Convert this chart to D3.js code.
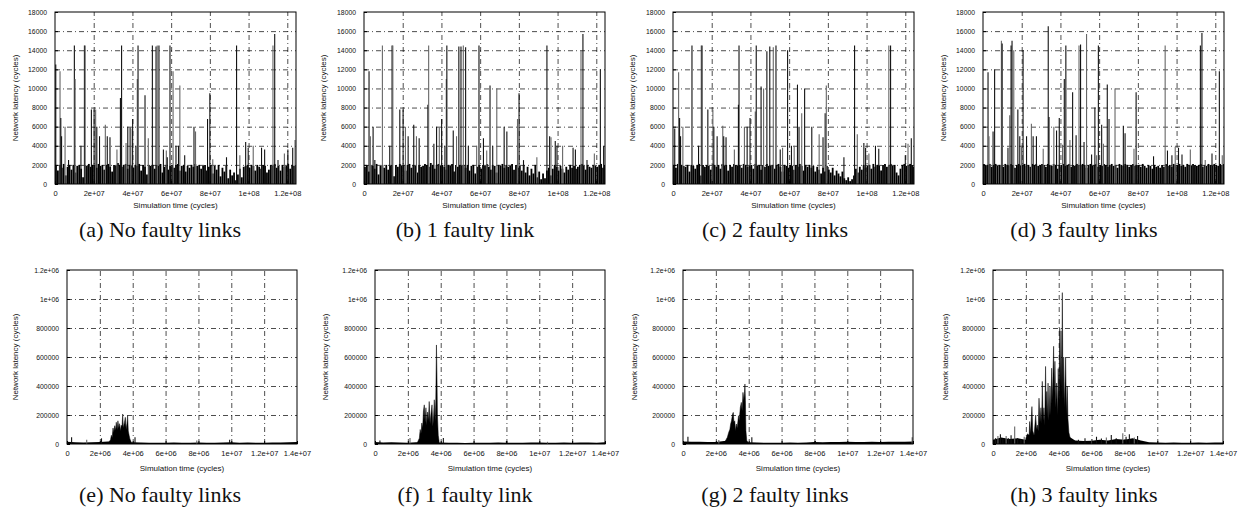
<!DOCTYPE html>
<html>
<head>
<meta charset="utf-8">
<script src="https://cdn.jsdelivr.net/npm/d3@7"></script>
<style>
body { margin: 0; background: #fff; }
svg text { font-family: "Liberation Sans", Arial, sans-serif; fill: #111; }
svg text.cap { font-family: "Liberation Serif", "Times New Roman", serif; }
</style>
</head>
<body>
<div class="canvas"></div>
<script>
// ---- data ----
var captions = ["(a) No faulty links", "(b) 1 faulty link", "(c) 2 faulty links", "(d) 3 faulty links",
                "(e) No faulty links", "(f) 1 faulty link", "(g) 2 faulty links", "(h) 3 faulty links"];
var yTitle = "Network latency (cycles)";
var xTitle = "Simulation time (cycles)";

// top row: 0 .. ~1.245e8 cycles, latency 0..18000
var xTickValsTop = [0, 2e7, 4e7, 6e7, 8e7, 1e8, 1.2e8];
var xTickLblTop = ["0", "2e+07", "4e+07", "6e+07", "8e+07", "1e+08", "1.2e+08"];
var yTickValsTop = [0, 2000, 4000, 6000, 8000, 10000, 12000, 14000, 16000, 18000];
var yTickLblTop = ["0", "2000", "4000", "6000", "8000", "10000", "12000", "14000", "16000", "18000"];
// bottom row: 0 .. 1.4e7 cycles, latency 0..1.2e6
var xTickValsBot = [0, 2e6, 4e6, 6e6, 8e6, 1e7, 1.2e7, 1.4e7];
var xTickLblBot = ["0", "2e+06", "4e+06", "6e+06", "8e+06", "1e+07", "1.2e+07", "1.4e+07"];
var yTickValsBot = [0, 2e5, 4e5, 6e5, 8e5, 1e6, 1.2e6];
var yTickLblBot = ["0", "200000", "400000", "600000", "800000", "1e+06", "1.2e+06"];

// top row: background band, one value per 1e6 cycles
var floorStepTop = 1e6;
var floorA = [1900,1400,2000,1700,2100,900,1800,2000,1500,2000, 1200,1900,2000,1600,700,2000,1900,2100,1800,2000,
  2000,1700,2100,1900,2000,1500,2000,2100,1800,1300, 2000,1900,2200,2000,1800,2000,2100,1600,2000,1900,
  1700,2000,1900,2100,1400,2000,1800,1000,2000,1900, 2000,1600,2000,1900,2100,1200,1800,2000,1500,1900,
  2000,1700,2000,2100,1400,1900,2000,1300,1900,1700, 2000,1800,2100,1900,2000,1600,1900,2000,1400,1800,
  2000,1100,1900,1500,2000,800,1700,1300,1900,600, 1500,900,1200,400,1000,1600,700,1800,1900,2000,
  1700,2000,1900,1400,2000,1800,1600,2000,1900,1200, 1500,2000,1900,2100,1700,1900,1400,2000,1800,1900,
  2100,1600,2000,1900,2000];
var floorB = [1800,2000,1300,2000,1900,1600,2100,1000,1900,2000, 1700,2000,1500,1900,2000,800,2000,1800,2100,1900,
  2000,1400,2000,2100,1700,2000,1900,1200,2000,1800, 1900,2100,2000,1800,2200,2000,1600,2000,2100,1900,
  2000,1800,1500,2000,1900,2100,1300,2000,1800,2000, 1900,2000,1700,2000,1400,1900,2000,1100,1800,2000,
  1600,2000,1900,2100,1800,1500,2000,1900,1200,2000, 1900,2100,1700,2000,1800,1900,2100,1500,2000,1700,
  1900,1400,2000,1200,1800,900,1600,1100,2000,700, 1300,500,1100,600,1400,1700,900,1600,2000,1800,
  1400,1900,1600,1200,1800,1500,2000,1700,1900,1600, 1800,2000,2100,1900,1500,2000,1800,1700,2000,1900,
  1800,2000,2100,1700,2000];
var floorC = [2000,1700,2100,1500,2000,1900,1800,2000,1300,2000, 1900,1600,2000,2100,900,2000,1800,2000,1900,1500,
  2100,2000,1800,2000,1600,2100,1900,2000,1400,2000, 1800,2100,2000,1900,2000,1700,2100,2000,1800,1900,
  2000,1600,2100,1900,2000,1500,2000,1800,2100,1900, 1900,2000,1600,2000,2100,1800,1300,2000,1900,1700,
  2000,1900,1500,2000,1800,2100,1900,1400,2000,1800, 2000,1700,1900,1300,1800,1500,1100,1700,1300,1900,
  1500,1200,1700,900,1400,1100,800,1300,600,400, 700,300,500,900,1600,1200,1800,1500,2000,1700,
  1900,2000,1600,2100,1800,2000,1900,1400,2000,2100, 1800,2000,2100,1900,2000,1200,900,1600,2000,2100,
  1900,2000,2100,2000,1800];
var floorD = [2100,1900,2000,2100,1800,2000,2100,1900,2000,2000, 1800,2100,2000,1900,2100,2000,1700,2000,2100,1900,
  2000,2100,1900,2000,1800,2100,2000,2100,1900,2000, 2100,2000,1800,2100,2000,1900,2100,2000,1600,2000,
  2000,2100,1900,2000,2100,1800,2000,1900,2100,2000, 1900,2100,2000,1700,2000,2100,1900,2000,2100,1800,
  2000,1900,2100,2000,1800,2000,2100,1900,2000,1700, 2100,2000,1900,2100,2000,1800,2000,2100,1900,2000,
  2000,1800,2100,1900,1700,2000,1900,1600,2000,1800, 1900,1700,2000,1800,2100,1900,2000,1800,2100,2000,
  2000,2100,1900,2000,1800,2100,2000,1900,2100,2000, 1900,2000,2100,1800,2000,1900,2100,2000,1900,2100,
  2000,1900,2100,2000,2100];

// top row spikes: [time in 1e6 cycles, latency]
var spikesA = [[0.4,12500],[2.6,11800],[3.0,6900],[3.4,5000],[5.2,6000],[7.0,2500],[10.0,14500],[10.4,11000],
  [13.4,4000],[15.2,14500],[15.6,14500],[18.8,7800],[20.2,7800],[21.0,7800],[21.6,6000],[23.0,5000],[26.0,6200],
  [27.0,5000],[28.4,4900],[32.0,3600],[33.8,9000],[34.4,14500],[36.7,4300],[37.6,6000],[38.8,5900],[39.2,5800],
  [40.1,6800],[41.8,4000],[42.5,11000],[42.9,14500],[46.5,9300],[48.2,4800],[50.3,14500],[52.2,14400],[52.8,14500],
  [53.7,14500],[56.0,3600],[57.5,3500],[58.0,2800],[59.4,14500],[61.0,11800],[62.5,4000],[63.8,4000],[64.5,10300],
  [67.0,3000],[71.8,6000],[72.6,5500],[78.8,6800],[80.0,9500],[81.5,2600],[88.6,2800],[93.8,14500],[95.5,3000],
  [98.5,4400],[99.8,3800],[102.4,4000],[106.7,3800],[108.3,3600],[112.6,14500],[113.5,15700],[115.2,2500],
  [118.5,3200],[120.3,3600],[122.8,3800],[124.0,4600]];
var spikesB = [[2.6,11800],[3.3,5000],[4.7,6000],[5.6,2500],[9.5,14500],[13.3,4000],[14.5,14500],[14.9,14500],
  [18.5,7800],[20.2,7800],[21.4,6000],[22.8,5000],[25.7,6200],[27.1,5000],[28.5,4800],[33.0,8300],[33.4,14500],
  [36.1,4200],[37.5,6000],[38.9,5900],[40.1,6800],[41.8,4000],[42.5,11000],[42.8,14500],[46.1,5600],[47.8,5000],
  [49.0,14400],[50.1,14400],[51.3,14500],[52.5,14300],[53.9,4000],[58.2,4000],[59.4,14500],[61.7,4800],
  [63.4,3500],[65.1,10300],[66.5,4000],[68.6,10000],[72.4,6000],[73.8,5500],[79.3,6800],[80.1,9500],[82.4,2500],
  [89.3,2800],[94.5,14500],[95.9,5000],[96.6,4900],[98.8,4500],[99.7,4000],[102.6,4000],[108.0,3800],
  [109.2,3600],[112.1,14000],[113.1,15700],[115.2,2500],[119.0,3200],[122.1,12000],[123.8,4000]];
var spikesC = [[0.9,5800],[2.9,11700],[3.4,6900],[3.9,5000],[5.1,6000],[9.8,14500],[13.2,4000],[14.6,14500],
  [15.0,14500],[18.0,7800],[20.6,7800],[21.1,6000],[22.8,5000],[25.7,6100],[26.2,5000],[27.4,4900],[31.7,3600],
  [33.8,8300],[34.1,14500],[36.9,6000],[38.3,6000],[39.8,6900],[42.5,7600],[43.0,14500],[45.5,10200],[46.8,10000],
  [48.5,13900],[50.0,14400],[51.8,14300],[53.2,14500],[55.4,3600],[56.6,3800],[59.2,14000],[61.2,4000],
  [62.6,4000],[64.3,10400],[65.1,6000],[66.5,7400],[68.0,10000],[71.7,6000],[75.5,5200],[77.5,4900],[78.6,7400],
  [79.2,10300],[88.3,2800],[93.8,14500],[95.2,5200],[98.6,4300],[99.5,3800],[101.2,3200],[104.6,4000],
  [106.3,3700],[111.5,14500],[112.4,14500],[120.0,3000],[121.4,4200],[123.1,4800]];
var spikesD = [[2.6,11700],[3.1,5000],[5.2,5500],[6.0,12000],[9.5,15000],[9.9,14700],[12.9,3800],[13.8,7200],
  [14.5,14500],[15.0,15000],[15.9,14000],[18.0,7800],[19.0,5000],[19.9,4000],[20.7,14000],[22.5,5000],
  [25.0,6300],[25.9,5000],[27.6,5000],[31.1,3700],[33.7,16500],[34.1,7000],[36.6,6000],[38.0,5600],[39.4,6900],
  [41.1,4100],[42.0,11000],[42.8,14500],[44.9,4600],[46.3,9600],[48.1,5100],[49.6,14500],[50.4,14600],
  [52.2,4400],[53.5,15700],[56.1,3100],[57.8,8000],[58.7,3000],[59.6,14500],[61.3,6200],[62.2,4200],
  [64.2,10400],[65.1,6800],[68.2,10000],[72.5,6100],[73.4,5300],[78.0,3700],[79.1,9600],[88.1,2900],
  [94.1,14500],[95.3,3500],[97.6,3000],[99.3,3900],[101.0,3800],[102.8,3100],[107.1,3600],[112.3,14500],
  [113.1,15800],[114.8,2500],[118.3,3200],[122.1,11800],[123.6,3000]];

// bottom row: background band, one value per 5e5 cycles
var floorStepBot = 5e5;
var floorE = [15000,12000,10000,12000,14000,18000,20000,14000,12000,10000,8000,9000,8000,10000,9000,
  8000,11000,9000,8000,10000,12000,9000,10000,8000,9000,11000,10000,12000,13000];
var floorF = [14000,11000,12000,10000,9000,12000,16000,12000,10000,8000,9000,7000,8000,9000,8000,
  10000,9000,8000,9000,11000,10000,9000,8000,10000,9000,11000,10000,9000,12000];
var floorG = [18000,16000,15000,14000,13000,20000,18000,15000,12000,10000,9000,8000,9000,10000,9000,
  11000,14000,12000,13000,14000,15000,14000,13000,15000,14000,15000,16000,15000,17000];
var floorH = [30000,45000,35000,40000,30000,50000,80000,100000,120000,60000,25000,20000,22000,30000,25000,
  35000,30000,40000,25000,12000,10000,9000,10000,8000,9000,10000,9000,11000,10000];

// bottom row bursts: [time in 1e6 cycles, latency]
var burstE = [[2.55,12000],[2.65,30000],[2.7,60000],[2.75,45000],[2.8,110000],[2.85,80000],[2.9,126000],
  [2.95,95000],[3.0,150000],[3.05,100000],[3.1,160000],[3.15,110000],[3.2,140000],[3.25,90000],[3.3,130000],
  [3.35,120000],[3.39,207000],[3.43,110000],[3.5,150000],[3.55,184000],[3.6,100000],[3.65,140000],
  [3.69,195000],[3.73,90000],[3.78,60000],[3.83,35000],[3.9,15000]];
var burstF = [[2.6,15000],[2.7,40000],[2.75,100000],[2.8,70000],[2.85,145000],[2.9,110000],[2.95,230000],
  [3.0,270000],[3.05,150000],[3.1,250000],[3.15,130000],[3.2,220000],[3.25,160000],[3.3,293000],[3.35,140000],
  [3.4,200000],[3.47,270000],[3.52,120000],[3.57,200000],[3.61,305000],[3.66,160000],[3.7,300000],
  [3.74,683000],[3.77,490000],[3.8,200000],[3.85,60000],[3.9,20000]];
var burstG = [[2.55,18000],[2.62,30000],[2.7,46000],[2.78,80000],[2.85,100000],[2.9,138000],[2.95,160000],
  [3.02,207000],[3.06,218000],[3.1,150000],[3.15,160000],[3.2,92000],[3.25,138000],[3.3,110000],[3.38,195000],
  [3.42,160000],[3.49,253000],[3.55,287000],[3.6,230000],[3.65,356000],[3.7,300000],[3.74,350000],
  [3.77,414000],[3.8,300000],[3.83,92000],[3.88,25000],[3.95,12000]];
var burstH = [[2.0,40000],[2.1,70000],[2.2,60000],[2.23,155000],[2.28,70000],[2.37,258000],[2.42,90000],
  [2.5,60000],[2.6,200000],[2.65,100000],[2.7,131000],[2.75,90000],[2.8,316000],[2.86,150000],[2.92,250000],
  [2.96,140000],[3.0,432000],[3.05,160000],[3.1,250000],[3.15,130000],[3.2,535000],[3.24,200000],
  [3.27,362000],[3.31,180000],[3.35,420000],[3.4,160000],[3.47,400000],[3.52,200000],[3.57,523000],
  [3.62,300000],[3.69,674000],[3.73,350000],[3.77,570000],[3.82,250000],[3.87,420000],[3.92,200000],
  [3.97,520000],[4.02,300000],[4.06,800000],[4.1,400000],[4.14,780000],[4.18,350000],[4.22,1044000],
  [4.26,300000],[4.3,600000],[4.35,250000],[4.42,593000],[4.47,200000],[4.52,400000],[4.56,178000],
  [4.62,80000],[4.7,40000]];

// bottom row small bumps: [time in 1e6 cycles, latency]
var spikesE = [[0.28,46000],[1.2,30000],[2.1,39000],[4.14,46000],[7.9,25000],[9.9,30000]];
var spikesF = [[0.3,25000],[2.13,41000],[4.16,41000],[8.0,20000],[10.5,15000]];
var spikesG = [[0.3,50000],[2.18,27000],[4.19,46000],[8.06,20000],[13.95,46000]];
var spikesH = [[0.15,40000],[0.3,55000],[0.45,67000],[0.6,35000],[0.8,55000],[0.95,40000],[1.1,60000],
  [1.32,120000],[1.5,40000],[1.7,30000],[1.9,50000],[5.2,30000],[5.6,40000],[6.0,35000],[6.3,50000],
  [6.6,38000],[6.9,45000],[7.2,62000],[7.5,40000],[7.9,74000],[8.1,50000],[8.3,67000],[8.6,45000],[8.8,55000]];

// ---- layout ----
var W = 1244, H = 510;
var svg = d3.select("body div.canvas").append("svg")
	.attr("width", W)
	.attr("height", H);

var topLefts = [55, 364, 673, 983];
var botLefts = [67, 375, 683, 993];
var topYTitleX = [15, 323, 632, 943];
var botYTitleX = [15, 325, 634, 945];
var capX = [160, 465, 775, 1084];

var panels = [];
[floorA, floorB, floorC, floorD].forEach(function(fl, i) {
	var sp = [spikesA, spikesB, spikesC, spikesD][i];
	panels.push({
		left: topLefts[i], top: 12, width: 241, height: 172,
		xMax: 1.245e8, yMax: 18000,
		xVals: xTickValsTop, xLbl: xTickLblTop, yVals: yTickValsTop, yLbl: yTickLblTop,
		floor: fl, floorStep: floorStepTop, floorMode: "impulse", spikes: sp, burst: null,
		yTitleX: topYTitleX[i], xTitleDy: 21, capX: capX[i], capY: 237, caption: captions[i]
	});
});
[floorE, floorF, floorG, floorH].forEach(function(fl, i) {
	panels.push({
		left: botLefts[i], top: 270, width: 230, height: 174,
		xMax: 1.4e7, yMax: 1.2e6,
		xVals: xTickValsBot, xLbl: xTickLblBot, yVals: yTickValsBot, yLbl: yTickLblBot,
		floor: fl, floorStep: floorStepBot, floorMode: "area",
		spikes: [spikesE, spikesF, spikesG, spikesH][i], burst: [burstE, burstF, burstG, burstH][i],
		yTitleX: botYTitleX[i], xTitleDy: 24, capX: capX[i], capY: 502, caption: captions[4 + i]
	});
});

panels.forEach(drawPanel);

function drawPanel(p) {
	var g = svg.append("g");
	var bottom = p.top + p.height;
	var x = d3.scaleLinear().domain([0, p.xMax]).range([p.left, p.left + p.width]);
	var y = d3.scaleLinear().domain([0, p.yMax]).range([bottom, p.top]);

	// grid (gnuplot dash-dot)
	g.append("g")
		.attr("transform", "translate(0," + bottom + ")")
		.call(d3.axisBottom(x).tickValues(p.xVals.slice(1).filter(function(v) { return v < p.xMax; }))
			.tickSize(-p.height).tickFormat(""))
		.call(function(s) { s.select(".domain").remove(); })
		.selectAll("line")
		.attr("stroke", "#8a8a8a").attr("stroke-width", 0.7).attr("stroke-dasharray", "5,3,1,3");
	g.append("g")
		.attr("transform", "translate(" + p.left + ",0)")
		.call(d3.axisLeft(y).tickValues(p.yVals.slice(1, p.yVals.length - 1))
			.tickSize(-p.width).tickFormat(""))
		.call(function(s) { s.select(".domain").remove(); })
		.selectAll("line")
		.attr("stroke", "#8a8a8a").attr("stroke-width", 0.7).attr("stroke-dasharray", "5,3,1,3");

	var clipId = "clip" + p.left + "_" + p.top;
	svg.append("clipPath").attr("id", clipId)
		.append("rect")
		.attr("x", p.left).attr("y", p.top).attr("width", p.width).attr("height", p.height);
	var data = g.append("g").attr("clip-path", "url(#" + clipId + ")");

	// background band
	if (p.floorMode == "impulse") {
		data.selectAll("line.floor")
			.data(p.floor)
			.enter()
			.append("line")
			.attr("class", "floor")
			.attr("x1", function(d, i) { return x((i + 0.5) * p.floorStep); })
			.attr("x2", function(d, i) { return x((i + 0.5) * p.floorStep); })
			.attr("y1", bottom)
			.attr("y2", function(d) { return y(d); })
			.attr("stroke", "#000")
			.attr("stroke-width", 1.8);
	} else {
		var fa = d3.area()
			.x(function(d, i) { return x(i * p.floorStep); })
			.y0(bottom)
			.y1(function(d) { return y(d); });
		data.append("path")
			.attr("d", fa(p.floor))
			.attr("fill", "#000");
	}

	// burst
	if (p.burst) {
		var ba = d3.area()
			.x(function(d) { return x(d[0] * 1e6); })
			.y0(bottom)
			.y1(function(d) { return y(d[1]); });
		data.append("path")
			.attr("d", ba(p.burst))
			.attr("fill", "#000")
			.attr("stroke", "#000")
			.attr("stroke-width", 0.5);
	}

	// spikes (scanned figure: some come out lighter)
	data.selectAll("line.spike")
		.data(p.spikes)
		.enter()
		.append("line")
		.attr("class", "spike")
		.attr("x1", function(d) { return x(d[0] * 1e6); })
		.attr("x2", function(d) { return x(d[0] * 1e6); })
		.attr("y1", bottom)
		.attr("y2", function(d) { return y(d[1]); })
		.attr("stroke", function(d, i) { return i % 3 == 1 ? "#666" : "#111"; })
		.attr("stroke-width", 1.1);

	// frame
	g.append("rect")
		.attr("x", p.left).attr("y", p.top)
		.attr("width", p.width).attr("height", p.height)
		.attr("fill", "none")
		.attr("stroke", "#000")
		.attr("stroke-width", 1);

	// axes, ticks pointing inward
	var xa = g.append("g")
		.attr("transform", "translate(0," + bottom + ")")
		.call(d3.axisBottom(x).tickValues(p.xVals).tickSize(-3).tickPadding(7)
			.tickFormat(function(d, i) { return p.xLbl[i]; }));
	xa.select(".domain").remove();
	xa.selectAll("text").attr("font-size", "7.5px").attr("font-family", null);

	var ya = g.append("g")
		.attr("transform", "translate(" + p.left + ",0)")
		.call(d3.axisLeft(y).tickValues(p.yVals).tickSize(-3).tickPadding(8)
			.tickFormat(function(d, i) { return p.yLbl[i]; }));
	ya.select(".domain").remove();
	ya.selectAll("text").attr("font-size", "6.8px").attr("font-family", null);

	g.selectAll(".tick line").attr("stroke", "#000");

	// axis titles
	g.append("text")
		.attr("x", p.left + p.width / 2)
		.attr("y", bottom + p.xTitleDy)
		.attr("dy", "0.35em")
		.attr("text-anchor", "middle")
		.style("font-size", "8px")
		.text(xTitle);
	g.append("text")
		.attr("transform", "translate(" + p.yTitleX + "," + (p.top + p.height / 2) + ") rotate(-90)")
		.attr("dy", "0.35em")
		.attr("text-anchor", "middle")
		.style("font-size", "8px")
		.text(yTitle);

	// caption
	g.append("text")
		.attr("class", "cap")
		.attr("x", p.capX)
		.attr("y", p.capY)
		.attr("text-anchor", "middle")
		.style("font-size", "22px")
		.text(p.caption);
}
</script>
</body>
</html>
